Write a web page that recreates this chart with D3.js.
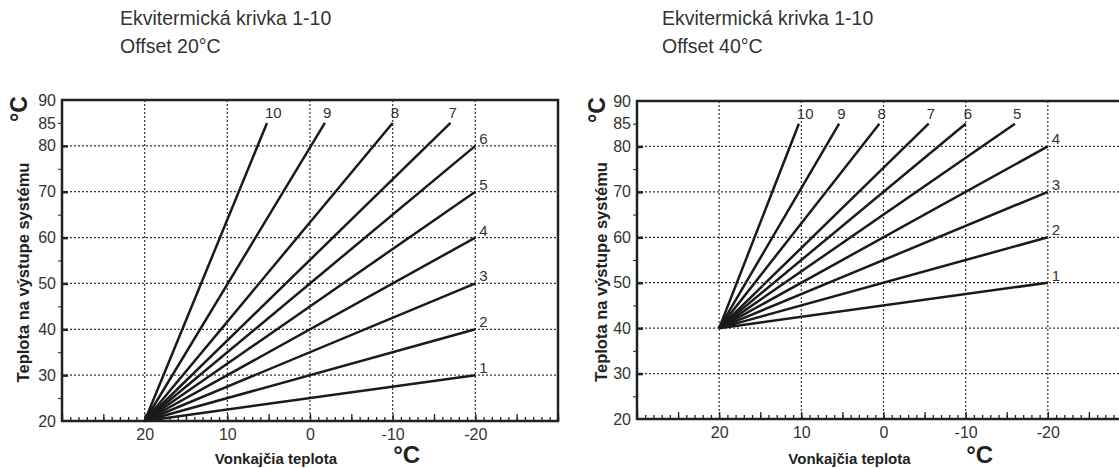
<!DOCTYPE html>
<html>
<head>
<meta charset="utf-8">
<script src="https://cdn.jsdelivr.net/npm/d3@7"></script>
<style>
    body { margin: 0; background: #fff; }
    svg { display: block; font-family: "Liberation Sans", Arial, sans-serif; }
</style>
</head>
<body>
<script>
// curve numbers 1-10
const curves = [1, 2, 3, 4, 5, 6, 7, 8, 9, 10];

// tick labels
const xLabels = [20, 10, 0, -10, -20];
const yLabels = [90, 85, 80, 70, 60, 50, 40, 30, 20];
const gridY = [80, 70, 60, 50, 40, 30];
const yMinor = [25, 35, 45, 55, 65, 75, 85];
const yMajor = [30, 40, 50, 60, 70, 80];

// offset 20 °C: every curve starts at (20, 20) and ends here
const start20 = [20, 20];
const end20X = [-20, -20, -20, -20, -20, -20, -17, -10, -1.8, 5.2];
const end20Y = [30, 40, 50, 60, 70, 80, 85, 85, 85, 85];

// offset 40 °C: every curve starts at (20, 40)
const start40 = [20, 40];
const end40X = [-20, -20, -20, -20, -16, -10, -5.5, 0.5, 5.4, 10.3];
const end40Y = [50, 60, 70, 80, 85, 85, 85, 85, 85, 85];

const width = 1119, height = 468;

const svg = d3.select("body").append("svg")
    .attr("width", width)
    .attr("height", height);

const panels = [
    {left: 62, right: 558, top: 100, bottom: 421, start: start20, endX: end20X, endY: end20Y,
     title: "Ekvitermická krivka 1-10", sub: "Offset 20°C", tx: 120, yTitleX: 29, yUnitX: 27},
    {left: 637, right: 1130, top: 101, bottom: 419, start: start40, endX: end40X, endY: end40Y,
     title: "Ekvitermická krivka 1-10", sub: "Offset 40°C", tx: 662, yTitleX: 607, yUnitX: 605}
];

panels.forEach(drawPanel);

function drawPanel(p) {
    const g = svg.append("g");
    const x = d3.scaleLinear([30, -30], [p.left, p.right]);
    const y = d3.scaleLinear([20, 90], [p.bottom, p.top]);

    // titles
    g.append("text")
        .attr("x", p.tx).attr("y", 25)
        .attr("fill", "#333").style("font-size", "19.5px")
        .text(p.title);
    g.append("text")
        .attr("x", p.tx).attr("y", 53)
        .attr("fill", "#333").style("font-size", "19.5px")
        .text(p.sub);

    // dotted grid
    g.append("g").selectAll("line").data(gridY).join("line")
        .attr("x1", p.left).attr("x2", p.right)
        .attr("y1", d => y(d)).attr("y2", d => y(d))
        .attr("stroke", "#333").attr("stroke-width", 1.2)
        .attr("stroke-dasharray", "2,2");
    g.append("g").selectAll("line").data(xLabels).join("line")
        .attr("x1", d => x(d)).attr("x2", d => x(d))
        .attr("y1", p.top).attr("y2", p.bottom)
        .attr("stroke", "#333").attr("stroke-width", 1.2)
        .attr("stroke-dasharray", "2,2");

    // x ticks (inside, pointing up)
    const xg = g.append("g").attr("transform", `translate(0,${p.bottom})`);
    xg.append("g")
        .call(d3.axisBottom(x).tickValues(d3.range(-30, 31)).tickSize(-4).tickFormat(""))
        .call(a => a.select(".domain").remove());
    xg.append("g")
        .call(d3.axisBottom(x).tickValues(d3.range(-30, 31, 5)).tickSize(-7).tickFormat(""))
        .call(a => a.select(".domain").remove());
    xg.append("g")
        .call(d3.axisBottom(x).tickValues(xLabels).tickSize(0).tickPadding(8).tickFormat(d => String(d)))
        .call(a => a.select(".domain").remove());
    xg.selectAll("line").attr("stroke", "#222").attr("stroke-width", 1.3);
    xg.selectAll("text").attr("fill", "#333").style("font-size", "16px")
        .style("font-family", "Liberation Sans, Arial, sans-serif");

    // y ticks
    const yg = g.append("g").attr("transform", `translate(${p.left},0)`);
    yg.append("g")
        .call(d3.axisLeft(y).tickValues(yMinor).tickSize(4).tickFormat(""))
        .call(a => a.select(".domain").remove());
    yg.append("g")
        .call(d3.axisLeft(y).tickValues(yMajor).tickSize(-6).tickFormat(""))
        .call(a => a.select(".domain").remove())
        .selectAll("line").attr("stroke-width", 2.5);
    yg.append("g")
        .call(d3.axisLeft(y).tickValues(yLabels).tickSize(0).tickPadding(6))
        .call(a => a.select(".domain").remove());
    yg.selectAll("line").attr("stroke", "#222");
    yg.selectAll("text").attr("fill", "#333").style("font-size", "16px")
        .style("font-family", "Liberation Sans, Arial, sans-serif");

    // frame
    g.append("rect")
        .attr("x", p.left).attr("y", p.top)
        .attr("width", p.right - p.left).attr("height", p.bottom - p.top)
        .attr("fill", "none").attr("stroke", "#222").attr("stroke-width", 2.5);

    // curves
    const line = d3.line().x(d => x(d[0])).y(d => y(d[1]));
    g.append("g").selectAll("path").data(curves).join("path")
        .attr("d", (c, i) => line([p.start, [p.endX[i], p.endY[i]]]))
        .attr("fill", "none").attr("stroke", "#1a1a1a").attr("stroke-width", 2.5);

    // curve numbers
    g.append("g").selectAll("text").data(curves).join("text")
        .attr("x", (c, i) => x(p.endX[i]) + (p.endY[i] < 85 ? 4 : -2))
        .attr("y", (c, i) => p.endY[i] < 85 ? y(p.endY[i]) - 2 : y(p.endY[i]) - 5)
        .attr("fill", "#333").style("font-size", "15px")
        .text(c => c);

    // axis titles
    g.append("text")
        .attr("transform", `translate(${p.yTitleX},${(p.top + p.bottom) / 2 + 12}) rotate(-90)`)
        .attr("text-anchor", "middle")
        .attr("fill", "#222").style("font-size", "16.5px").style("font-weight", "bold")
        .text("Teplota na výstupe systému");
    g.append("text")
        .attr("transform", `translate(${p.yUnitX},${p.top + 9}) rotate(-90)`)
        .attr("text-anchor", "middle")
        .attr("fill", "#222").style("font-size", "23px").style("font-weight", "bold")
        .text("°C");
    g.append("text")
        .attr("x", (x(20) + x(-20)) / 2 - 34).attr("y", 464)
        .attr("text-anchor", "middle")
        .attr("fill", "#222").style("font-size", "15px").style("font-weight", "bold")
        .text("Vonkajčia teplota");
    g.append("text")
        .attr("x", x(-10) + 14).attr("y", 463)
        .attr("text-anchor", "middle")
        .attr("fill", "#222").style("font-size", "24px").style("font-weight", "bold")
        .text("°C");
}
</script>
</body>
</html>
